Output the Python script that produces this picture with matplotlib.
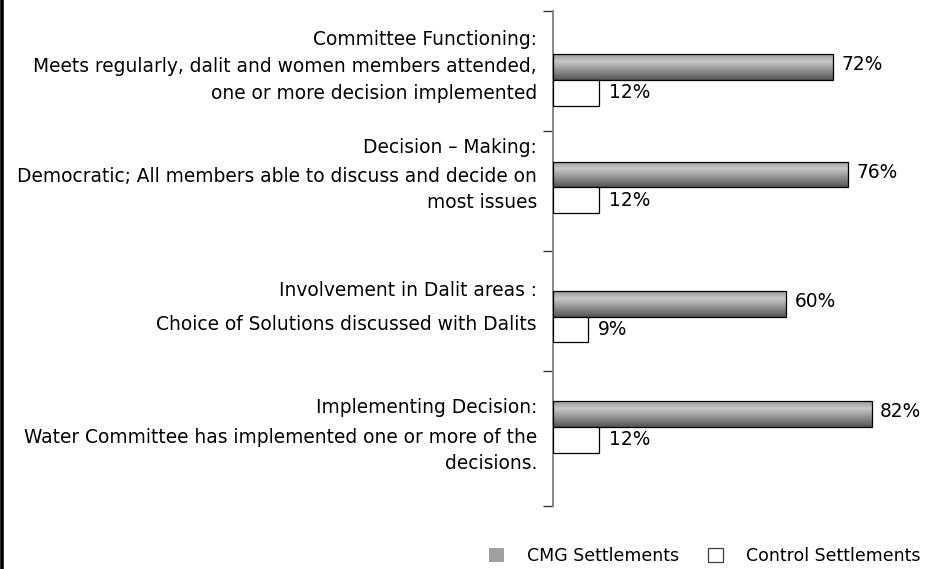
import numpy as np
import matplotlib
matplotlib.use("Agg")
import matplotlib.pyplot as plt
from matplotlib.colors import LinearSegmentedColormap
from matplotlib.patches import Patch
from matplotlib.lines import Line2D
import matplotlib.transforms as mtransforms

# data
headers = ["Committee Functioning:",
           "Decision \u2013 Making:",
           "Involvement in Dalit areas :",
           "Implementing Decision:"]
descriptions = [["Meets regularly, dalit and women members attended,",
                 "one or more decision implemented"],
                ["Democratic; All members able to discuss and decide on",
                 "most issues"],
                ["Choice of Solutions discussed with Dalits"],
                ["Water Committee has implemented one or more of the",
                 "decisions."]]
cmg_values = [72, 76, 60, 82]
control_values = [12, 12, 9, 12]
series_names = ["CMG Settlements", "Control Settlements"]

# layout (y in category-band units, 0 = top of axis)
bar_centre = [0.578, 1.472, 2.55, 3.467]
header_y = [0.244, 1.144, 2.328, 3.303]
desc_y = [0.469, 1.378, 2.619, 3.553]
line_step = 0.217
bar_h = 0.215
y_end = 4.1275

plt.rcParams['font.family'] = ['DejaVu Sans']
FS = 13.4

fig = plt.figure(figsize=(9.32, 5.69), dpi=100)
ax = fig.add_axes([552.6 / 932, 1 - 506 / 569, 1 - 552.6 / 932, (506 - 10.7) / 569])

grad_cmap = LinearSegmentedColormap.from_list(
    "bar", [(0, "#9a9a9a"), (0.28, "#c8c8c8"), (1, "#565656")])
grad = np.linspace(0, 1, 64).reshape(-1, 1)

for i in range(len(cmg_values)):
    top = bar_centre[i] - bar_h
    bars = ax.barh(bar_centre[i] - bar_h / 2, cmg_values[i], height=bar_h,
                   facecolor="none", edgecolor="black", linewidth=0.9, zorder=3)
    im = ax.imshow(grad, cmap=grad_cmap, aspect="auto", origin="upper",
                   extent=(0, cmg_values[i], bar_centre[i], top), zorder=2)
    im.set_clip_path(bars[0])
    ax.barh(bar_centre[i] + bar_h / 2, control_values[i], height=bar_h,
            facecolor="white", edgecolor="black", linewidth=0.9, zorder=3)
    ax.text(cmg_values[i] + 2.2, bar_centre[i] - bar_h / 2 - 0.02, f"{cmg_values[i]}%",
            fontsize=FS, va="center", ha="left")
    ax.text(control_values[i] + 2.6, bar_centre[i] + bar_h / 2, f"{control_values[i]}%",
            fontsize=FS, va="center", ha="left")

ax.set_xlim(0, (932 - 552.6) / 3.89)
ax.set_ylim(y_end, 0)
ax.set_yticks([0, 1, 2, 3, y_end])
ax.set_yticklabels([])
ax.set_xticks([])
for s in ["top", "right", "bottom"]:
    ax.spines[s].set_visible(False)
ax.spines["left"].set_color("#808080")
ax.spines["left"].set_linewidth(1.3)
ax.tick_params(axis="y", direction="out", length=7, width=1, color="#333333")
ax.patch.set_visible(False)

# category labels on the left of the axis
trans = mtransforms.blended_transform_factory(fig.transFigure, ax.transData)
tx = 537 / 932
for i in range(len(headers)):
    fig.text(tx, header_y[i], headers[i], transform=trans, ha="right",
             va="center", fontsize=FS)
    for j, line in enumerate(descriptions[i]):
        fig.text(tx, desc_y[i] + j * line_step, line, transform=trans,
                 ha="right", va="center", fontsize=FS)

# left frame edge
fig.add_artist(Line2D([0.0018, 0.0018], [0, 1], color="black", linewidth=2.6,
                      transform=fig.transFigure))

handles = [Patch(facecolor="#a0a0a0", edgecolor="none"),
           Patch(facecolor="white", edgecolor="#404040", linewidth=0.9)]
fig.legend(handles, series_names, ncol=2, loc="lower right",
           bbox_to_anchor=(1.004, -0.021), frameon=False, fontsize=12.5,
           handlelength=0.85, handleheight=0.85, handletextpad=1.3,
           columnspacing=1.7)

fig.savefig("out.png", dpi=100)
